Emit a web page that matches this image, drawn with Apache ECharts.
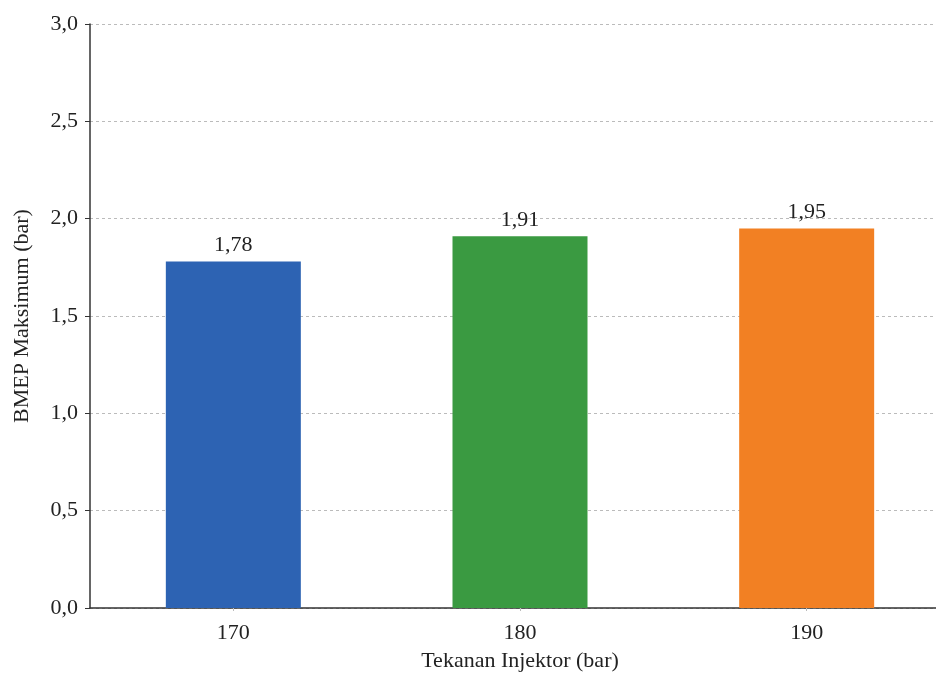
<!DOCTYPE html>
<html>
<head>
<meta charset="utf-8">
<script src="https://cdn.jsdelivr.net/npm/echarts@6/dist/echarts.min.js"></script>
<style>
html,body{margin:0;padding:0;background:#fff;}
#c{width:936px;height:673px;}
</style>
</head>
<body>
<div id="c"></div>
<script>
var categories = ['170', '180', '190'];
var values = [1.78, 1.91, 1.95];
var barColors = ['#2d63b3', '#3a9a41', '#f28023'];

var chart = echarts.init(document.getElementById('c'), null, {renderer: 'canvas'});
var font = '"Liberation Serif", "Times New Roman", serif';
chart.setOption({
  backgroundColor: '#ffffff',
  animation: false,
  grid: {left: 90, top: 24, width: 860, height: 584, containLabel: false, outerBoundsMode: 'none'},
  xAxis: {
    type: 'category',
    data: categories,
    name: 'Tekanan Injektor (bar)',
    nameLocation: 'middle',
    nameGap: 42,
    nameTextStyle: {fontFamily: font, fontSize: 22, color: '#222'},
    axisLine: {lineStyle: {color: '#333', width: 1.5}},
    axisTick: {show: true, alignWithLabel: true, length: 3, lineStyle: {color: '#bbb'}},
    axisLabel: {fontFamily: font, fontSize: 22, color: '#222', margin: 14}
  },
  yAxis: {
    type: 'value',
    min: 0, max: 3, interval: 0.5,
    name: 'BMEP Maksimum (bar)',
    nameLocation: 'middle',
    nameGap: 57,
    nameRotate: 90,
    nameTextStyle: {fontFamily: font, fontSize: 22, color: '#222'},
    axisLine: {show: true, lineStyle: {color: '#333', width: 1.5}},
    axisTick: {show: true, length: 5, lineStyle: {color: '#333'}},
    axisLabel: {fontFamily: font, fontSize: 22, color: '#222', margin: 12,
      formatter: function (v) { return v.toFixed(1).replace('.', ','); }},
    splitLine: {show: true, lineStyle: {color: '#bbb', type: [3, 3], width: 1}}
  },
  series: [{
    type: 'bar',
    barWidth: 135,
    data: values.map(function (v, i) { return {value: v, itemStyle: {color: barColors[i]}}; }),
    label: {
      show: true, position: 'top', distance: 5,
      fontFamily: font, fontSize: 22, color: '#222',
      formatter: function (p) { return p.value.toFixed(2).replace('.', ','); }
    }
  }]
});
</script>
</body>
</html>
